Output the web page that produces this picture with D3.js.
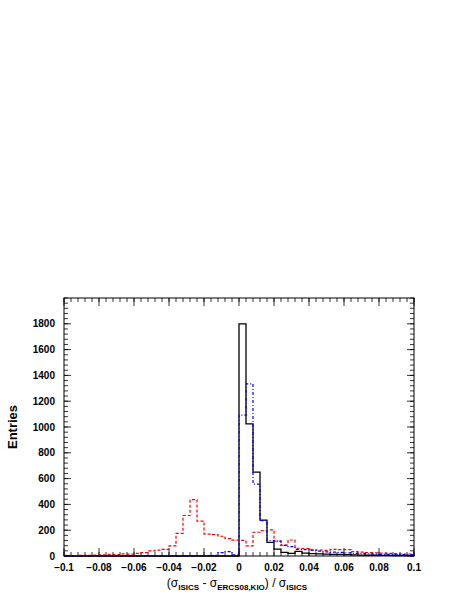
<!DOCTYPE html>
<html>
<head>
<meta charset="utf-8">
<script src="https://cdn.jsdelivr.net/npm/d3@7"></script>
<style>
  body { margin: 0; background: #fff; }
  svg { display: block; }
  text { font-family: "Liberation Sans", Arial, Helvetica, sans-serif; }
</style>
</head>
<body>
<svg class="chart"></svg>
<script>
// bin edges: 50 bins of 0.004 from -0.1 to 0.1
const binStart = -0.1,
      binWidth = 0.004

// ISICS vs ERCS08 (solid black)
const blackCounts = [
  0, 0, 0, 0, 0, 0, 0, 0, 0, 0,
  0, 0, 0, 0, 0, 0, 0, 0, 0, 0,
  0, 0, 0, 0, 0, 1800, 1024, 650, 278, 106,
  54, 28, 20, 36, 22, 18, 16, 14, 12, 12,
  10, 8, 7, 6, 6, 5, 5, 4, 4, 3
]

// dashed red
const redCounts = [
  5, 4, 6, 5, 7, 9, 12, 10, 16, 15,
  20, 26, 40, 46, 52, 78, 175, 314, 437, 270,
  170, 166, 153, 135, 123, 121, 79, 184, 196, 202,
  115, 85, 124, 60, 58, 47, 45, 44, 52, 50,
  50, 34, 30, 26, 25, 22, 20, 18, 15, 14
]

// dash-dotted blue
const blueCounts = [
  0, 0, 0, 0, 0, 0, 0, 0, 0, 0,
  0, 0, 0, 0, 0, 0, 0, 0, 0, 2,
  3, 5, 26, 34, 8, 1092, 1334, 557, 274, 120,
  115, 82, 72, 52, 50, 45, 38, 32, 30, 28,
  25, 20, 18, 16, 15, 13, 12, 11, 10, 10
]

const xTicks = [-0.1, -0.08, -0.06, -0.04, -0.02, 0, 0.02, 0.04, 0.06, 0.08, 0.1]
const yTicks = [0, 200, 400, 600, 800, 1000, 1200, 1400, 1600, 1800]

const W = 463, H = 599
const margin = { top: 298, left: 64, right: 49, bottom: 43 },
      width = W - margin.left - margin.right,
      height = H - margin.top - margin.bottom

const svg = d3.select(".chart")
    .attr("width", W)
    .attr("height", H)

const g = svg.append("g")
    .attr("transform", "translate(" + margin.left + "," + margin.top + ")")

const x = d3.scaleLinear().domain([-0.1, 0.1]).range([0, width])
const y = d3.scaleLinear().domain([0, 2000]).range([height, 0])

// histogram outline as a step line
function steps (counts) {
  var pts = counts.map((c, i) => [binStart + i * binWidth, c])
  pts.push([binStart + counts.length * binWidth, counts[counts.length - 1]])
  return pts
}

const line = d3.line()
    .x(d => x(d[0]))
    .y(d => y(d[1]))
    .curve(d3.curveStepAfter)

// minor ticks
const xMinor = d3.range(0, 51).map(i => -0.1 + i * 0.004)
const yMinor = d3.range(0, 51).map(i => i * 40)

function tickMarks (vals, len, axis) {
  vals.forEach(v => {
    if (axis === "x") {
      g.append("line").attr("x1", x(v)).attr("x2", x(v)).attr("y1", height).attr("y2", height - len)
        .attr("stroke", "#000").attr("stroke-width", 0.8)
      g.append("line").attr("x1", x(v)).attr("x2", x(v)).attr("y1", 0).attr("y2", len)
        .attr("stroke", "#000").attr("stroke-width", 0.8)
    } else {
      g.append("line").attr("x1", 0).attr("x2", len).attr("y1", y(v)).attr("y2", y(v))
        .attr("stroke", "#000").attr("stroke-width", 0.8)
      g.append("line").attr("x1", width).attr("x2", width - len).attr("y1", y(v)).attr("y2", y(v))
        .attr("stroke", "#000").attr("stroke-width", 0.8)
    }
  })
}

tickMarks(xMinor, 4, "x")
tickMarks(xTicks, 8, "x")
tickMarks(yMinor, 4, "y")
tickMarks(yTicks, 7, "y")

// histograms
g.append("path")
    .attr("d", line(steps(blackCounts)))
    .attr("fill", "none")
    .attr("stroke", "#000")
    .attr("stroke-width", 1.3)

g.append("path")
    .attr("d", line(steps(redCounts)))
    .attr("fill", "none")
    .attr("stroke", "#ff0000")
    .attr("stroke-width", 1.2)
    .attr("stroke-dasharray", "3,2")

g.append("path")
    .attr("d", line(steps(blueCounts)))
    .attr("fill", "none")
    .attr("stroke", "#0000ff")
    .attr("stroke-width", 1.2)
    .attr("stroke-dasharray", "3,2,1,2")

// frame
g.append("rect")
    .attr("x", 0).attr("y", 0)
    .attr("width", width).attr("height", height)
    .attr("fill", "none")
    .attr("stroke", "#000")
    .attr("stroke-width", 1)

// tick labels
g.selectAll(".xlab")
  .data(xTicks)
  .enter()
  .append("text")
    .attr("class", "xlab")
    .attr("x", d => x(d))
    .attr("y", height + 15)
    .attr("text-anchor", "middle")
    .style("font-size", "10px")
    .style("font-weight", "bold")
    .text(d => d3.format("")(+d.toFixed(2)))

g.selectAll(".ylab")
  .data(yTicks)
  .enter()
  .append("text")
    .attr("class", "ylab")
    .attr("x", -9)
    .attr("y", d => y(d))
    .attr("dy", "0.35em")
    .attr("text-anchor", "end")
    .style("font-size", "10px")
    .style("font-weight", "bold")
    .text(d => d)

// axis titles
svg.append("text")
    .attr("transform", "translate(17," + (margin.top + height / 2) + ") rotate(-90)")
    .attr("text-anchor", "middle")
    .style("font-size", "13px")
    .style("font-weight", "bold")
    .text("Entries")

const xt = svg.append("text")
    .attr("x", margin.left + width / 2 - 2)
    .attr("y", 587)
    .attr("text-anchor", "middle")
    .style("font-size", "12px")

xt.append("tspan").text("(σ")
xt.append("tspan").attr("dy", 3).style("font-size", "8px").style("font-weight", "bold").text("ISICS")
xt.append("tspan").attr("dy", -3).text(" - σ")
xt.append("tspan").attr("dy", 3).style("font-size", "8px").style("font-weight", "bold").text("ERCS08,KIO")
xt.append("tspan").attr("dy", -3).text(") / σ")
xt.append("tspan").attr("dy", 3).style("font-size", "8px").style("font-weight", "bold").text("ISICS")
</script>
</body>
</html>
